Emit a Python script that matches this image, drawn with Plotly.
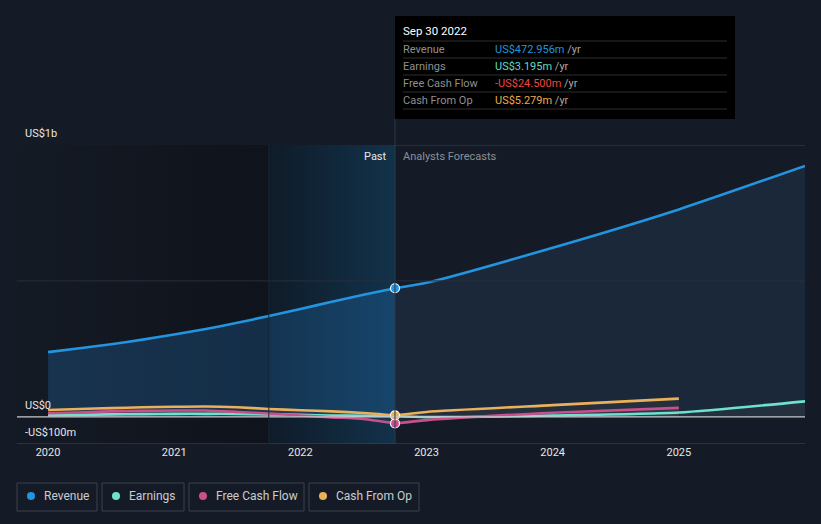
import plotly.graph_objects as go

# ---------------- data (US$ m) ----------------
past_x = [2020.0, 2020.25, 2020.5, 2020.75, 2021.0, 2021.25, 2021.5, 2021.75,
          2022.0, 2022.25, 2022.5, 2022.75]
rev_past = [238, 252, 267, 284, 303, 323, 346, 371, 397, 423, 449, 473]
earn_past = [6, 7, 9, 10, 11, 11, 11, 9, 7, 5, 4, 3.195]
fcf_past = [13, 16, 20, 22, 23, 23, 18, 12, 5, -2, -8, -24.5]
cfo_past = [25, 29, 32, 35, 37, 38, 35, 29, 24, 20, 14, 5.279]

fc_x = [2022.75, 2023.0, 2024.0, 2025.0, 2026.0]
rev_fc = [473, 493, 622, 763, 923]
earn_fc = [3.195, -1, 5, 16, 57]
fcf_fc_x = [2022.75, 2023.0, 2024.0, 2025.0]
fcf_fc = [-24.5, -12, 15, 33]
cfo_fc = [5.279, 18, 43, 67]

x_ticks = [2020, 2021, 2022, 2023, 2024, 2025]
y_labels = [(1000, "US$1b"), (0, "US$0"), (-100, "-US$100m")]

tooltip_date = "Sep 30 2022"
tooltip_rows = [
    ("Revenue", "US$472.956m", "#2394df"),
    ("Earnings", "US$3.195m", "#5ddcc4"),
    ("Free Cash Flow", "-US$24.500m", "#f0463c"),
    ("Cash From Op", "US$5.279m", "#e9aa50"),
]
legend_items = [
    ("Revenue", "#2394df", 17, 97),
    ("Earnings", "#6de3cf", 102, 184),
    ("Free Cash Flow", "#c9508d", 189, 304),
    ("Cash From Op", "#e9b15b", 309, 419),
]

C_REV = "#2394df"
C_EARN = "#6de3cf"
C_FCF = "#c9508d"
C_CFO = "#e9b15b"
BG = "#151b26"

W, H = 821, 524
L, R, T, B = 17, 805, 145, 444
X0, X1 = 2019.754, 2026.0
Y0, Y1 = -100, 1000


def px(xp):
    return (xp - L) / (R - L)


def py(yp):
    return (B - yp) / (B - T)


FONT = "Roboto"
fig = go.Figure()

# background bands
fig.add_trace(go.Scatter(
    x=[X0, 2021.75, 2021.75, X0, X0], y=[Y0, Y0, Y1, Y1, Y0],
    fill="toself", mode="none", hoverinfo="skip", showlegend=False,
    fillgradient=dict(type="horizontal",
                      colorscale=[[0, "#141a24"], [1, "#0f131b"]])))
fig.add_trace(go.Scatter(
    x=[2021.75, 2022.75, 2022.75, 2021.75, 2021.75], y=[Y0, Y0, Y1, Y1, Y0],
    fill="toself", mode="none", hoverinfo="skip", showlegend=False,
    fillgradient=dict(type="horizontal",
                      colorscale=[[0, "#0f1b28"], [1, "#12324b"]])))

# revenue fills
fig.add_trace(go.Scatter(x=past_x, y=rev_past, mode="none", fill="tozeroy",
                         fillcolor="rgba(35,120,190,0.28)", hoverinfo="skip",
                         showlegend=False, line=dict(shape="spline", smoothing=0.6)))
fig.add_trace(go.Scatter(x=fc_x, y=rev_fc, mode="none", fill="tozeroy",
                         fillcolor="rgba(40,75,110,0.28)", hoverinfo="skip",
                         showlegend=False, line=dict(shape="spline", smoothing=0.6)))

# small series fills
for xs, ys in [(past_x, cfo_past), (fc_x[:4], cfo_fc), (past_x, fcf_past),
               (fcf_fc_x, fcf_fc), (past_x, earn_past), (fc_x, earn_fc)]:
    fig.add_trace(go.Scatter(x=xs, y=ys, mode="none", fill="tozeroy",
                             fillcolor="rgba(90,90,90,0.18)", hoverinfo="skip",
                             showlegend=False,
                             line=dict(shape="spline", smoothing=0.6)))

# lines
def add_line(xs, ys, color):
    fig.add_trace(go.Scatter(x=xs, y=ys, mode="lines",
                             line=dict(color=color, width=2.6, shape="spline",
                                       smoothing=0.6),
                             hoverinfo="skip", showlegend=False))

add_line(past_x, earn_past, C_EARN)
add_line(fc_x, earn_fc, C_EARN)
add_line(past_x, fcf_past, C_FCF)
add_line(fcf_fc_x, fcf_fc, C_FCF)
add_line(past_x, cfo_past, C_CFO)
add_line(fcf_fc_x, cfo_fc, C_CFO)
add_line(past_x, rev_past, C_REV)
add_line(fc_x, rev_fc, C_REV)

# markers at the hover date
fig.add_trace(go.Scatter(
    x=[past_x[-1]] * 3, y=[fcf_past[-1], cfo_past[-1], rev_past[-1]],
    mode="markers", hoverinfo="skip", showlegend=False,
    marker=dict(size=9, color=[C_FCF, C_CFO, C_REV],
                line=dict(color="#ffffff", width=1.2))))

shapes = []
# gridlines
shapes.append(dict(type="line", xref="paper", yref="y", x0=0, x1=1, y0=1000, y1=1000,
                   line=dict(color="#3b434f", width=1), layer="below"))
shapes.append(dict(type="line", xref="paper", yref="y", x0=0, x1=1, y0=500, y1=500,
                   line=dict(color="#27303c", width=1), layer="above"))
shapes.append(dict(type="line", xref="paper", yref="y", x0=0, x1=1, y0=0, y1=0,
                   line=dict(color="#c8cacd", width=1.2), layer="above"))
shapes.append(dict(type="line", xref="paper", yref="y", x0=0, x1=1, y0=-100, y1=-100,
                   line=dict(color="#434a55", width=1), layer="above"))
# vertical lines
shapes.append(dict(type="line", xref="x", yref="paper", x0=2021.75, x1=2021.75,
                   y0=0, y1=1, line=dict(color="#172533", width=1), layer="above"))
shapes.append(dict(type="line", xref="x", yref="paper", x0=2022.75, x1=2022.75,
                   y0=0, y1=py(119), line=dict(color="#2a3b4e", width=1), layer="above"))

# tooltip box
shapes.append(dict(type="rect", xref="paper", yref="paper", x0=px(395), x1=px(735),
                   y0=py(119), y1=py(16), fillcolor="#000000",
                   line=dict(width=0), layer="above"))
for yy in [41, 58, 75, 92, 109]:
    shapes.append(dict(type="line", xref="paper", yref="paper", x0=px(403), x1=px(727),
                       y0=py(yy), y1=py(yy), line=dict(color="#2e2e2e", width=1),
                       layer="above"))

annotations = []
NB = dict(borderpad=0, borderwidth=0, showarrow=False)
annotations.append(dict(xref="paper", yref="paper", x=px(403), y=py(31),
                        text=tooltip_date, xanchor="left", yanchor="middle",
                        font=dict(family=FONT, size=11.5, color="#ffffff"), **NB))
for i, (lab, val, col) in enumerate(tooltip_rows):
    yy = 49 + i * 17.3
    annotations.append(dict(xref="paper", yref="paper", x=px(403), y=py(yy),
                            text=lab, xanchor="left", yanchor="middle",
                            font=dict(family=FONT, size=11, color="#8f8f8f"), **NB))
    annotations.append(dict(xref="paper", yref="paper", x=px(495), y=py(yy),
                            text=f"<span style='color:{col}'>{val}</span> "
                                 f"<span style='color:#a8a8a8'>/yr</span>",
                            xanchor="left", yanchor="middle",
                            font=dict(family=FONT, size=11, color=col), **NB))

# y labels
for val, txt in y_labels:
    annotations.append(dict(xref="paper", yref="y", x=px(25), y=val, text=txt,
                            xanchor="left", yanchor="bottom", yshift=5,
                            font=dict(family=FONT, size=11, color="#e6e6e6"), **NB))

annotations.append(dict(xref="x", yref="paper", x=2022.75, y=py(156), text="Past",
                        xanchor="right", yanchor="middle", xshift=-8,
                        font=dict(family=FONT, size=11, color="#e8e8e8"), **NB))
annotations.append(dict(xref="x", yref="paper", x=2022.75, y=py(156),
                        text="Analysts Forecasts", xanchor="left",
                        yanchor="middle", xshift=8,
                        font=dict(family=FONT, size=11, color="#8c9096"), **NB))

# legend
for name, col, lx0, lx1 in legend_items:
    shapes.append(dict(type="rect", xref="paper", yref="paper", x0=px(lx0), x1=px(lx1),
                       y0=py(511), y1=py(483), line=dict(color="#3a414c", width=1),
                       fillcolor="rgba(0,0,0,0)", layer="above"))
    shapes.append(dict(type="circle", xref="paper", yref="paper",
                       x0=px(lx0 + 10), x1=px(lx0 + 18), y0=py(500), y1=py(492),
                       fillcolor=col, line=dict(width=0), layer="above"))
    annotations.append(dict(xref="paper", yref="paper", x=px(lx0 + 27), y=py(496),
                            text=name, xanchor="left", yanchor="middle",
                            font=dict(family=FONT, size=12, color="#c9ccd1"), **NB))

fig.update_layout(
    width=W, height=H, autosize=False,
    margin=dict(l=L, r=W - R, t=T, b=H - B, pad=0),
    paper_bgcolor=BG, plot_bgcolor=BG,
    showlegend=False, shapes=shapes, annotations=annotations,
    xaxis=dict(range=[X0, X1], showgrid=False, zeroline=False, showline=False,
               tickvals=x_ticks, ticktext=[str(t) for t in x_ticks], ticks="",
               tickfont=dict(family=FONT, size=11, color="#e6e6e6")),
    yaxis=dict(range=[Y0, Y1], showgrid=False, zeroline=False, showline=False,
               showticklabels=False),
    font=dict(family=FONT),
)

fig.write_html(
    "out.html",
    config={"displayModeBar": False},
    post_script=("document.body.style.margin='0';"
                 "document.body.style.overflow='hidden';"
                 f"document.body.style.background='{BG}';"),
)
